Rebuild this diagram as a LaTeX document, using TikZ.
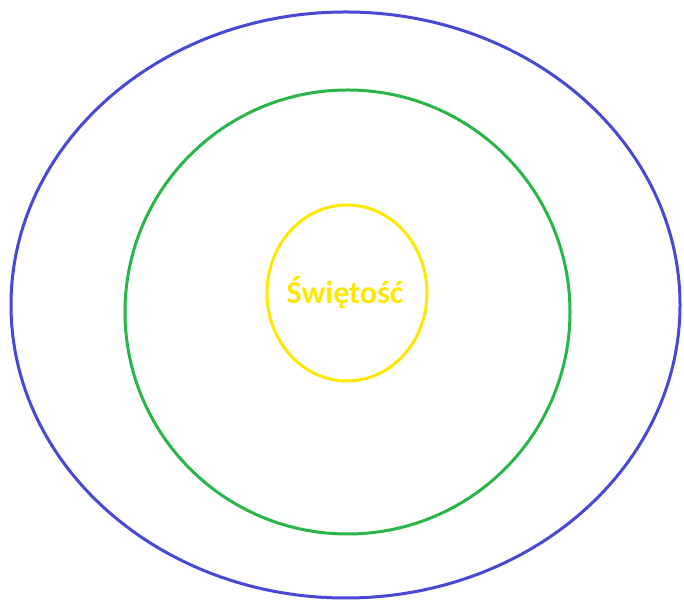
\documentclass[tikz,border=0pt]{standalone}
\usepackage{fontspec}
\setmainfont{Carlito}
\definecolor{ringblue}{RGB}{72,72,214}
\definecolor{ringgreen}{RGB}{40,182,72}
\definecolor{ringyellow}{RGB}{255,232,0}
\begin{document}
\begin{tikzpicture}[x=1pt,y=1pt,ring/.style={line width=3pt}]
\useasboundingbox (0,0) rectangle (684,601);
\fill[white] (0,0) rectangle (684,601);
\draw[ring,ringblue] (345.5,296) ellipse [x radius=334.5, y radius=293];
\draw[ring,ringgreen] (347.5,289) ellipse [x radius=222.5, y radius=222];
\draw[ring,ringyellow] (347,308) ellipse [x radius=80, y radius=88];
\node[text=ringyellow,font=\fontsize{32}{36}\selectfont\bfseries] (t) at (345,308) {Świętość};
\end{tikzpicture}
\end{document}
